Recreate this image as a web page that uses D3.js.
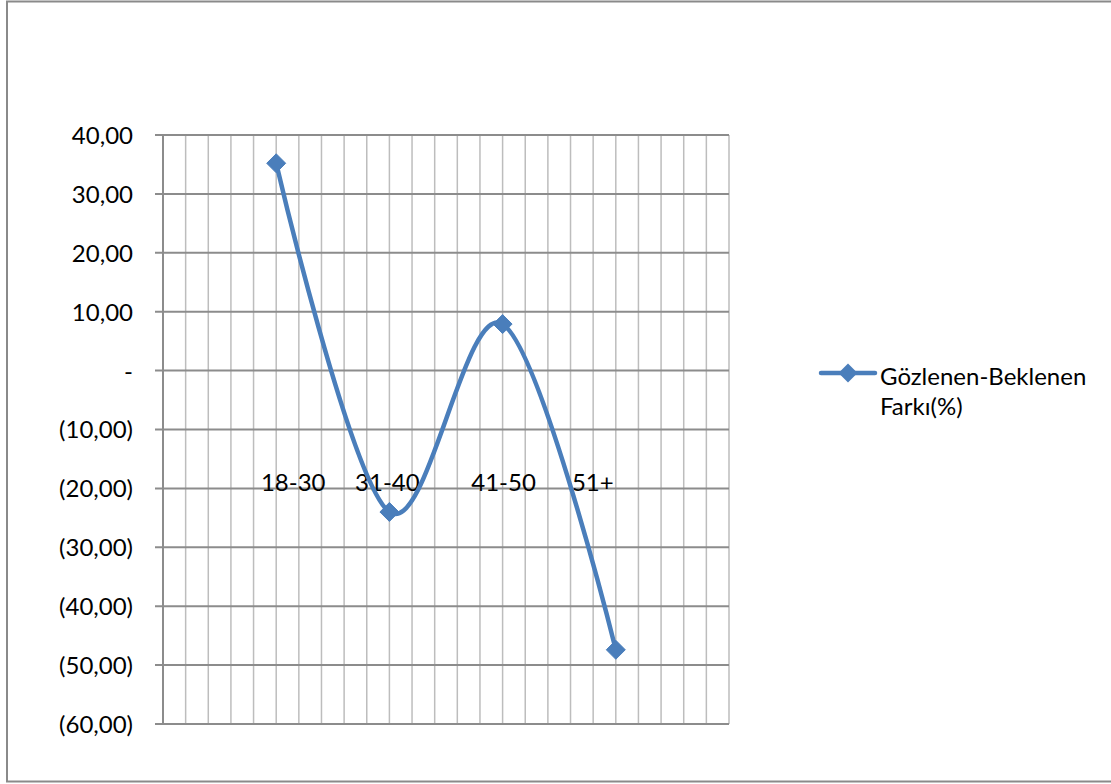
<!DOCTYPE html>
<html>
<head>
<meta charset="utf-8">
<script src="https://cdn.jsdelivr.net/npm/d3@7"></script>
<style>
  html, body { margin: 0; padding: 0; background: #fff; }
  svg { display: block; font-family: Lato, "Open Sans", sans-serif; }
</style>
</head>
<body>
<svg id="chart" width="1111" height="784"></svg>
<script>
// Age groups and the observed-minus-expected difference (%)
const categories = ["18-30", "31-40", "41-50", "51+"];
const values = [35.2, -24.0, 7.9, -47.4];
const seriesName = ["Gözlenen-Beklenen", "Farkı(%)"];
const yTicks = [40, 30, 20, 10, 0, -10, -20, -30, -40, -50, -60];

const svg = d3.select("#chart");
const W = 1111, H = 784;
const FS = 24;

// outer frame
svg.append("rect")
  .attr("x", 7).attr("y", 1.5)
  .attr("width", W - 6).attr("height", H - 4)
  .attr("fill", "none").attr("stroke", "#8a8a8a").attr("stroke-width", 2);

const plot = { left: 163, right: 729, top: 135, bottom: 724 };

// category positions sit on every fifth minor gridline
const x = d3.scaleLinear().domain([0, 5]).range([plot.left, plot.right]);
const y = d3.scaleLinear().domain([-60, 40]).range([plot.bottom, plot.top]);

const g = svg.append("g");

// vertical minor gridlines
const minor = d3.range(1, 26).map(i => i * 0.2);
g.selectAll("line.vgrid").data(minor).enter().append("line")
  .attr("class", "vgrid")
  .attr("x1", d => x(d)).attr("x2", d => x(d))
  .attr("y1", plot.top).attr("y2", plot.bottom)
  .attr("stroke", "#bdbdbd").attr("stroke-width", 1.5);

// horizontal major gridlines
g.selectAll("line.hgrid").data(yTicks).enter().append("line")
  .attr("class", "hgrid")
  .attr("x1", plot.left - 8).attr("x2", plot.right)
  .attr("y1", d => y(d)).attr("y2", d => y(d))
  .attr("stroke", "#8c8c8c").attr("stroke-width", 2);

// value axis line
g.append("line")
  .attr("x1", plot.left).attr("x2", plot.left)
  .attr("y1", plot.top).attr("y2", plot.bottom)
  .attr("stroke", "#8c8c8c").attr("stroke-width", 2);

// value axis labels in accounting style
const fmt = v => {
  if (v === 0) return "-";
  const s = Math.abs(v).toFixed(2).replace(".", ",");
  return v < 0 ? "(" + s + ")" : s;
};
const yAxis = d3.axisLeft(y).tickValues(yTicks).tickFormat(fmt).tickSize(0).tickPadding(0);
const ya = g.append("g").attr("transform", `translate(${plot.left - 30},0)`).call(yAxis);
ya.select(".domain").remove();
ya.selectAll("text")
  .attr("font-family", "Lato, 'Open Sans', sans-serif")
  .attr("font-size", FS).attr("fill", "#000").attr("dy", "0.35em");

// category labels drawn where the category axis crosses
const labelShift = [17, -2, 1, -23];
g.selectAll("text.cat").data(categories).enter().append("text")
  .attr("class", "cat")
  .attr("x", (d, i) => x(i + 1) + labelShift[i])
  .attr("y", y(-20) + 3)
  .attr("text-anchor", "middle")
  .attr("font-size", FS).attr("fill", "#000")
  .text(d => d);

// smoothed series line
const pts = values.map((v, i) => [x(i + 1), y(v)]);
const line = d3.line().curve(d3.curveCardinal.tension(0));
g.append("path")
  .attr("d", line(pts))
  .attr("fill", "none").attr("stroke", "#4a7ebb").attr("stroke-width", 4.5)
  .attr("stroke-linecap", "round");

const diamond = (cx, cy, r) => `M${cx},${cy - r}L${cx + r},${cy}L${cx},${cy + r}L${cx - r},${cy}Z`;
g.selectAll("path.mk").data(pts).enter().append("path")
  .attr("class", "mk")
  .attr("d", d => diamond(d[0], d[1], 9.5))
  .attr("fill", "#4a7ebb").attr("stroke", "#4a7ebb").attr("stroke-width", 1);

// legend
const lg = svg.append("g");
lg.append("line")
  .attr("x1", 821).attr("x2", 875).attr("y1", 373).attr("y2", 373)
  .attr("stroke", "#4a7ebb").attr("stroke-width", 4.5).attr("stroke-linecap", "round");
lg.append("path").attr("d", diamond(848, 373, 9.5)).attr("fill", "#4a7ebb");
lg.selectAll("text").data(seriesName).enter().append("text")
  .attr("x", 880).attr("y", (d, i) => 385 + i * 30)
  .attr("font-size", FS).attr("fill", "#000")
  .text(d => d);
</script>
</body>
</html>
